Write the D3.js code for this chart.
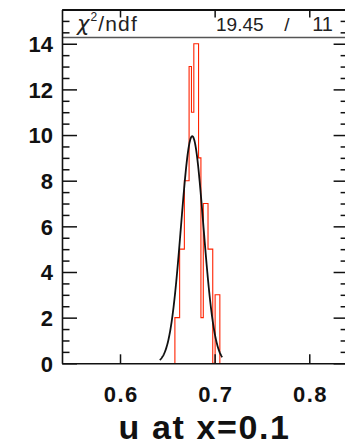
<!DOCTYPE html>
<html><head><meta charset="utf-8">
<script src="https://cdn.jsdelivr.net/npm/d3@7"></script>
<style>body{margin:0;background:#fff}svg{display:block}</style>
</head><body>
<script>
// ---- data ----
const binWidth = 0.0025;
const binLow = [0.6580,0.6605,0.6630,0.6655,0.6680,0.6705,0.6730,0.6755,0.6780,0.6805,0.6830,0.6855,0.6880,0.6905,0.6930,0.6955,0.6980,0.7005,0.7030];
const counts = [2,2,5,5,8,8,13,11,14,14,9,2,7,7,5,5,0,3,3];
const fitParams = [9.95, 0.6763, 0.0118]; // constant, mean, sigma of the gaussian fit
const fitRange = [0.642, 0.708];
const xTicks = [0.6, 0.7, 0.8];
const xTickLabels = ["0.6", "0.7", "0.8"];
const yTicks = [0, 2, 4, 6, 8, 10, 12, 14];
const yTickLabels = ["0", "2", "4", "6", "8", "10", "12", "14"];
const statsName = ["χ", "2", "/ndf"];
const statsValue = ["19.45", "/", "11"];
const titleText = "u at x=0.1";

const W = 345, H = 443;
const FONT = "'Liberation Sans', Arial, Helvetica, sans-serif";
const svg = d3.select("body").append("svg").attr("width", W).attr("height", H);
svg.append("rect").attr("width", W).attr("height", H).attr("fill", "#fff");

const x = d3.scaleLinear().domain([0.5387, 0.8405]).range([62, 347.6]);
const y = d3.scaleLinear().domain([0, 15.5]).range([363.3, 9.5]);

// histogram outline
const bins = binLow.map((lo, i) => ({lo, hi: lo + binWidth, v: counts[i]}));
const pts = [[bins[0].lo, 0]];
bins.forEach(b => { pts.push([b.lo, b.v]); pts.push([b.hi, b.v]); });
pts.push([bins[bins.length - 1].hi, 0]);
svg.append("path")
  .attr("d", d3.line().x(d => x(d[0])).y(d => y(d[1]))(pts))
  .attr("fill", "none").attr("stroke", "#ff2200").attr("stroke-width", 1.1);

// gaussian fit
const gauss = t => fitParams[0] * Math.exp(-0.5 * Math.pow((t - fitParams[1]) / fitParams[2], 2));
const fx = d3.range(fitRange[0], fitRange[1] + 1e-9, (fitRange[1] - fitRange[0]) / 200);
svg.append("path")
  .attr("d", d3.line().x(t => x(t)).y(t => y(gauss(t)))(fx))
  .attr("fill", "none").attr("stroke", "#111").attr("stroke-width", 1.8);

// stats box
svg.append("rect").attr("x", 62).attr("y", 9.5).attr("width", 285).attr("height", 28).attr("fill", "#fff");
svg.append("line").attr("x1", 62).attr("x2", 347).attr("y1", 37.5).attr("y2", 37.5)
  .attr("stroke", "#555").attr("stroke-width", 1.6);
const st = svg.append("text").attr("x", 77).attr("y", 31).attr("font-family", FONT).attr("font-size", 21).attr("fill", "#222");
st.append("tspan").text(statsName[0]).attr("font-family", "'DejaVu Sans', sans-serif").attr("font-style", "italic");
st.append("tspan").text(statsName[1]).attr("font-size", 12).attr("dy", -10).attr("dx", 1);
st.append("tspan").text(statsName[2]).attr("dy", 10).attr("dx", 1).attr("letter-spacing", 1.2);
svg.append("text").attr("x", 216).attr("y", 31).attr("font-family", FONT).attr("font-size", 19).attr("fill", "#222").text(statsValue[0]);
svg.append("text").attr("x", 287).attr("y", 31).attr("text-anchor", "middle").attr("font-family", FONT).attr("font-size", 19).attr("fill", "#222").text(statsValue[1]);
svg.append("text").attr("x", 333).attr("y", 31).attr("text-anchor", "end").attr("font-family", FONT).attr("font-size", 20).attr("fill", "#222").text(statsValue[2]);

// axes
const yMinor = d3.range(0, 15.5001, 0.5).filter(v => v % 2 !== 0);
function styleAxis(g) {
  g.selectAll("path.domain").attr("stroke", "#111").attr("stroke-width", 1.6);
  g.selectAll(".tick line").attr("stroke", "#111").attr("stroke-width", 1.5);
}
// left
svg.append("g").attr("transform", "translate(62,0)")
  .call(d3.axisLeft(y).tickValues(yTicks).tickSize(-15).tickSizeOuter(0).tickPadding(9)
    .tickFormat((d, i) => yTickLabels[i]))
  .call(styleAxis)
  .call(g => g.selectAll("text").attr("font-family", FONT).attr("font-weight", "bold")
    .attr("font-size", 22).attr("fill", "#111").attr("dy", "0.36em"));
svg.append("g").attr("transform", "translate(62,0)")
  .call(d3.axisLeft(y).tickValues(yMinor).tickSize(-7.5).tickSizeOuter(0).tickFormat(""))
  .call(styleAxis).call(g => g.select("path.domain").remove());
// right
svg.append("g").attr("transform", "translate(347.6,0)")
  .call(d3.axisRight(y).tickValues(yTicks).tickSize(-14).tickSizeOuter(0).tickFormat(""))
  .call(styleAxis);
svg.append("g").attr("transform", "translate(347.6,0)")
  .call(d3.axisRight(y).tickValues(yMinor).tickSize(-7).tickSizeOuter(0).tickFormat(""))
  .call(styleAxis).call(g => g.select("path.domain").remove());
// bottom
svg.append("g").attr("transform", "translate(0,363.3)")
  .call(d3.axisBottom(x).tickValues(xTicks).tickSize(-9).tickSizeOuter(0).tickPadding(23)
    .tickFormat((d, i) => xTickLabels[i]))
  .call(styleAxis)
  .call(g => g.selectAll("text").attr("font-family", FONT).attr("font-weight", "bold")
    .attr("font-size", 22).attr("fill", "#111").attr("dy", "0").attr("y", 38.4)
    .attr("letter-spacing", 1.5).attr("dx", 0.75));
// top
svg.append("g").attr("transform", "translate(0,9.5)")
  .call(d3.axisTop(x).tickValues(xTicks).tickSize(-8).tickSizeOuter(0).tickFormat(""))
  .call(styleAxis)
  .call(g => g.select("path.domain").attr("stroke-width", 2));

// title
svg.append("text").attr("x", 204.5).attr("y", 439).attr("text-anchor", "middle")
  .attr("font-family", FONT).attr("font-weight", "bold").attr("font-size", 34).attr("fill", "#111")
  .attr("letter-spacing", 1.6)
  .text(titleText);
</script>
</body></html>
